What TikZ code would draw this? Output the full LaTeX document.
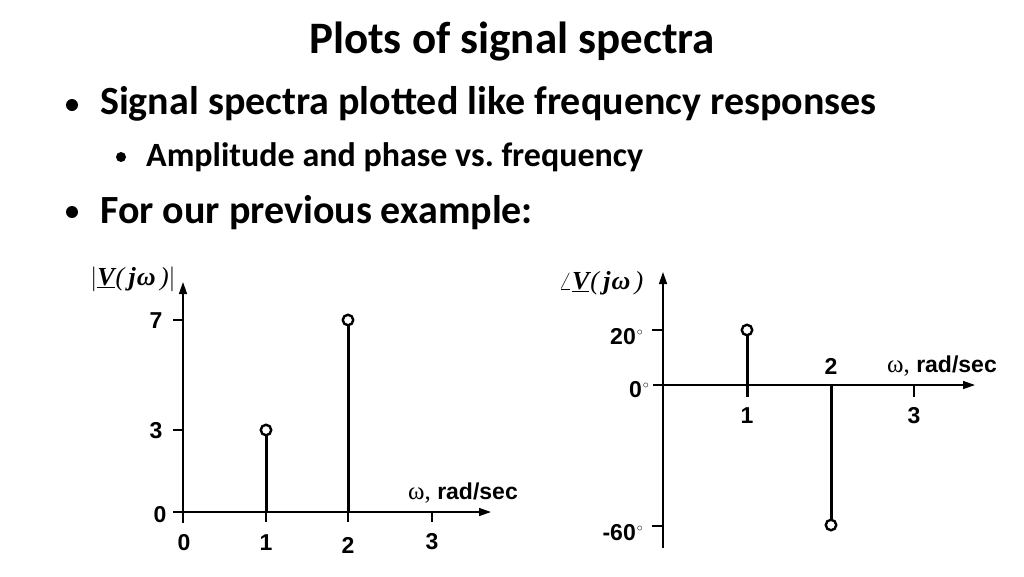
\documentclass[tikz,border=0pt]{standalone}
\usepackage{fontspec}
\setmainfont{Carlito}
\newfontfamily\hv{Liberation Sans}
\newfontfamily\tms{Liberation Serif}
\usetikzlibrary{arrows.meta}
\frenchspacing
\newcommand{\dg}{\kern1pt\raisebox{9.5pt}{\fontsize{13}{13}\selectfont$\circ$}}
\newcommand{\Vlab}{{\tms\bfseries\itshape\underline{V}}{\tms\itshape\kern1pt(\,}{\tms\bfseries\itshape j\kern1pt ω}{\tms\itshape\,)}}
\begin{document}
\begin{tikzpicture}[x=1pt,y=-1pt,
  axisarrow/.style={line width=1.4pt,-{Triangle[length=12pt,width=8pt]}},
  tickline/.style={line width=1.4pt},
  stemline/.style={line width=3pt},
  dotnode/.style={circle,draw,line width=2.4pt,fill=white,minimum size=10.5pt,inner sep=0pt},
  lbl/.style={font=\hv\bfseries\fontsize{23}{25}\selectfont,inner sep=0pt},
  ylbl/.style={font=\fontsize{26}{28}\selectfont,inner sep=0pt},
  title/.style={font=\bfseries\fontsize{45}{50}\selectfont,inner sep=0pt},
  bulA/.style={font=\bfseries\fontsize{40}{44}\selectfont,inner sep=0pt},
  bulB/.style={font=\bfseries\fontsize{34}{38}\selectfont,inner sep=0pt},
  bdot/.style={circle,fill=black,inner sep=0pt}
]
\useasboundingbox[fill=white] (0,0) rectangle (1024,576);

% ---------- text ----------
\node[title] (ttl) at (512,42) {Plots of signal spectra};
\node[bulA,anchor=west] (t1) at (100,104) {Signal spectra plotted like frequency responses};
\node[bdot,minimum size=12pt] (b1) at (72,105) {};
\node[bulB,anchor=west] (t2) at (146,157) {Amplitude and phase vs. frequency};
\node[bdot,minimum size=10pt] (b2) at (121,157) {};
\node[bulA,anchor=west] (t3) at (100,213) {For our previous example:};
\node[bdot,minimum size=12pt] (b3) at (72,212) {};

% ---------- left plot: magnitude ----------
\coordinate (Lyb) at (183,523);
\coordinate (Lyt) at (183,282);
\coordinate (Lxl) at (173,512);
\coordinate (Lxr) at (491,512);
\draw[axisarrow] (Lyb) -- (Lyt);
\draw[axisarrow] (Lxl) -- (Lxr);
\coordinate (L7a) at (173,320); \coordinate (L7b) at (183,320);
\coordinate (L3a) at (173,430); \coordinate (L3b) at (183,430);
\draw[tickline] (L7a) -- (L7b);
\draw[tickline] (L3a) -- (L3b);
\coordinate (Lt1a) at (266,512); \coordinate (Lt1b) at (266,522);
\coordinate (Lt2a) at (348,512); \coordinate (Lt2b) at (348,522);
\coordinate (Lt3a) at (432,512); \coordinate (Lt3b) at (432,522);
\draw[tickline] (Lt1a) -- (Lt1b);
\draw[tickline] (Lt2a) -- (Lt2b);
\draw[tickline] (Lt3a) -- (Lt3b);
\node[dotnode] (Ld1) at (266,430) {};
\node[dotnode] (Ld2) at (348,320) {};
\draw[stemline] (Lt1a) -- (Ld1);
\draw[stemline] (Lt2a) -- (Ld2);
\node[lbl] (Ly7) at (156,321) {7};
\node[lbl] (Ly3) at (156,431) {3};
\node[lbl] (Ly0) at (160,515) {0};
\node[lbl] (Lx0) at (184,543) {0};
\node[lbl] (Lx1) at (266,543) {1};
\node[lbl] (Lx2) at (348,545) {2};
\node[lbl] (Lx3) at (432,542) {3};
\node[lbl,anchor=east] (Lxlab) at (518,493) {{\tms\mdseries\fontsize{25}{25}\selectfont ω,} rad/sec};
\node[ylbl] (Lyl) at (133,279) {$\Bigl|\mbox{\Vlab}\Bigr|$};

% ---------- right plot: phase ----------
\coordinate (Ryb) at (663,548);
\coordinate (Ryt) at (663,272);
\coordinate (Rxl) at (653,385);
\coordinate (Rxr) at (975,385);
\draw[axisarrow] (Ryb) -- (Ryt);
\draw[axisarrow] (Rxl) -- (Rxr);
\coordinate (R20a) at (652,330); \coordinate (R20b) at (663,330);
\coordinate (R60a) at (652,526); \coordinate (R60b) at (663,526);
\draw[tickline] (R20a) -- (R20b);
\draw[tickline] (R60a) -- (R60b);
\coordinate (Rt1a) at (747,385); \coordinate (Rt1b) at (747,397);
\coordinate (Rt2a) at (831,385);
\coordinate (Rt3a) at (914,385); \coordinate (Rt3b) at (914,397);
\draw[tickline] (Rt1a) -- (Rt1b);
\draw[tickline] (Rt3a) -- (Rt3b);
\node[dotnode] (Rd1) at (747,330) {};
\node[dotnode] (Rd2) at (831,525) {};
\draw[stemline] (Rt1b) -- (Rd1);
\draw[stemline] (Rt2a) -- (Rd2);
\node[lbl,anchor=east] (Ry20) at (643,337) {20\dg};
\node[lbl,anchor=east] (Ry0) at (649,390) {0\dg};
\node[lbl,anchor=east] (Ry60) at (643,533) {-60\dg};
\node[lbl] (Rx1) at (747,416) {1};
\node[lbl] (Rx2) at (831,366) {2};
\node[lbl] (Rx3) at (914,416) {3};
\node[lbl,anchor=east] (Rxlab) at (997,366) {{\tms\mdseries\fontsize{25}{25}\selectfont ω,} rad/sec};
\node[ylbl] (Ryl) at (601,283) {$\angle$\Vlab};
\end{tikzpicture}
\end{document}
